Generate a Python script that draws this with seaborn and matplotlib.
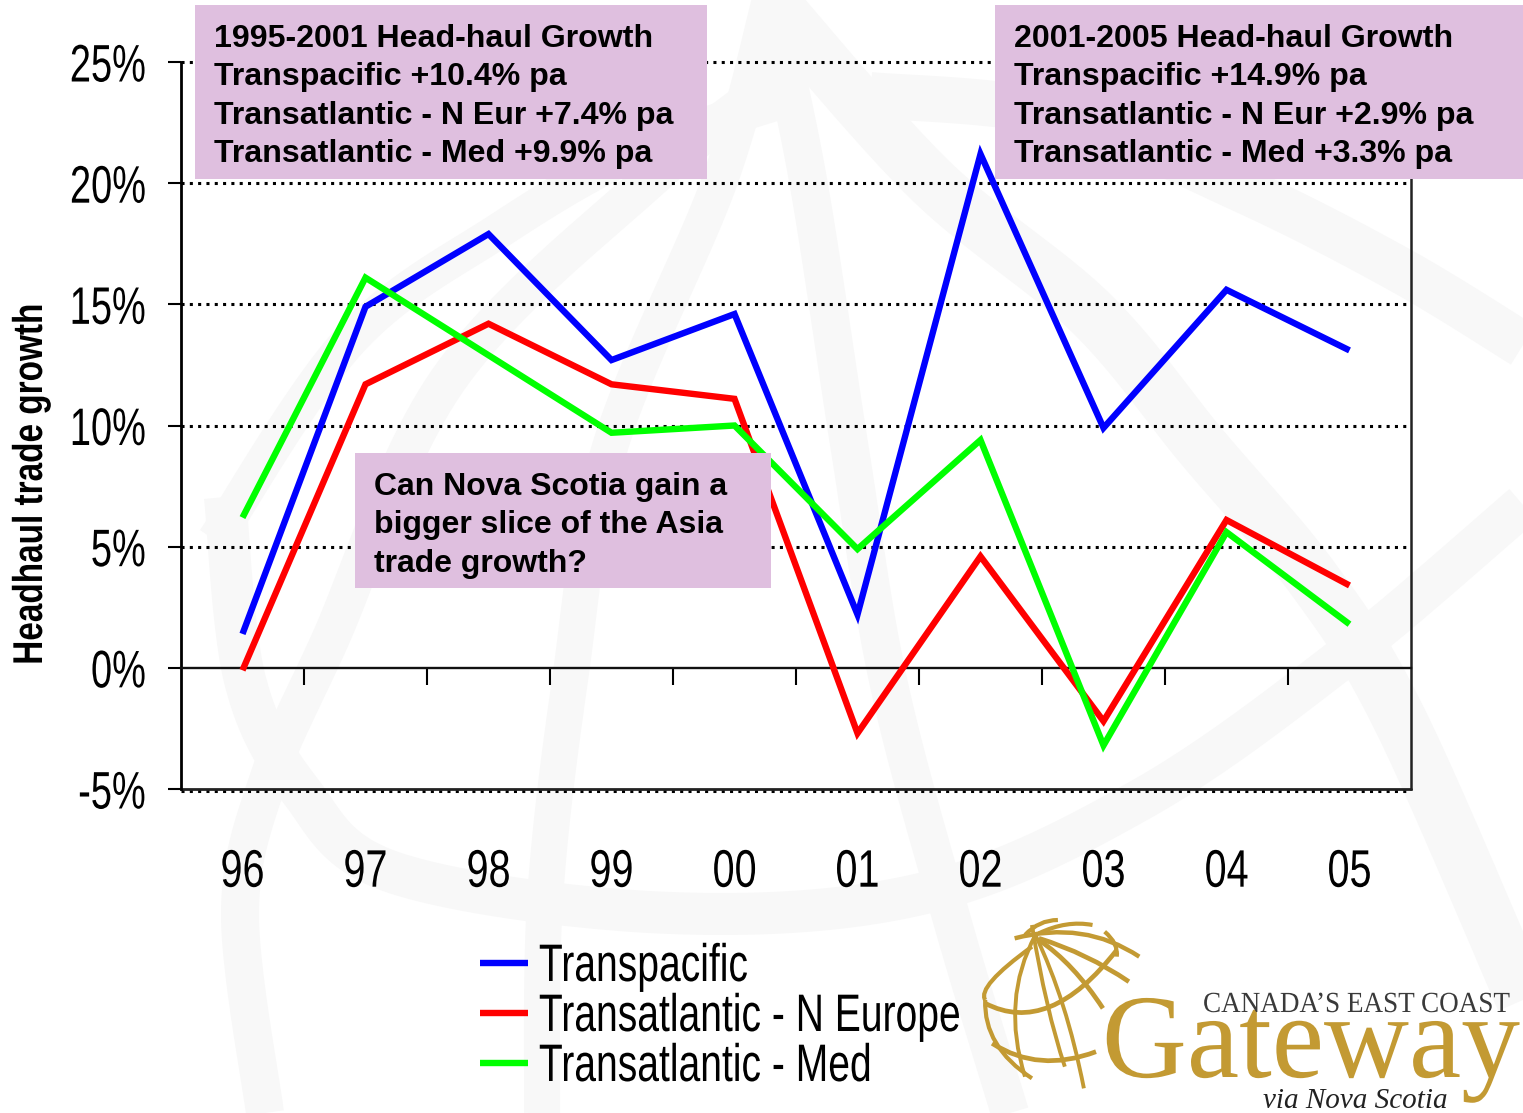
import numpy as np
import pandas as pd
import matplotlib
matplotlib.use("Agg")
import matplotlib.pyplot as plt
from matplotlib.path import Path
from matplotlib.patches import PathPatch, Rectangle
from matplotlib.patheffects import AbstractPathEffect
from matplotlib.transforms import Affine2D
import seaborn as sns

years = ["96", "97", "98", "99", "00", "01", "02", "03", "04", "05"]
transpacific = [1.4, 14.9, 17.9, 12.7, 14.6, 2.2, 21.2, 9.9, 15.6, 13.1]
n_europe = [-0.1, 11.7, 14.2, 11.7, 11.1, -2.7, 4.6, -2.2, 6.1, 3.4]
med = [6.2, 16.1, 12.9, 9.7, 10.0, 4.9, 9.4, -3.2, 5.6, 1.8]
series_names = ["Transpacific", "Transatlantic - N Europe", "Transatlantic - Med"]
series_colors = ["#0000FF", "#FF0000", "#00FF00"]
y_ticks = [-5, 0, 5, 10, 15, 20, 25]
box_left = ["1995-2001 Head-haul Growth", "Transpacific +10.4% pa", "Transatlantic - N Eur +7.4% pa", "Transatlantic - Med +9.9% pa"]
box_right = ["2001-2005 Head-haul Growth", "Transpacific +14.9% pa", "Transatlantic - N Eur +2.9% pa", "Transatlantic - Med +3.3% pa"]
box_mid = ["Can Nova Scotia gain a", "bigger slice of the Asia", "trade growth?"]

W, H = 1523, 1113
SANS = "Liberation Sans"
sns.set_theme(style="white")
fig = plt.figure(figsize=(W/100, H/100), dpi=100, facecolor="white")


class Squeeze(AbstractPathEffect):
    """Condense real text along its reading direction, about one end or its middle."""
    def __init__(self, s, anchor="center", vertical=False):
        super().__init__()
        self.s, self.anchor, self.vertical = s, anchor, vertical

    def draw_path(self, renderer, gc, tpath, affine, rgbFace=None):
        e = tpath.get_extents(affine)
        if self.vertical:
            c = (e.y0 + e.y1) / 2
            t = Affine2D().translate(0, -c).scale(1, self.s).translate(0, c)
        else:
            c = {"left": e.x0, "right": e.x1, "center": (e.x0 + e.x1) / 2}[self.anchor]
            t = Affine2D().translate(-c, 0).scale(self.s, 1).translate(c, 0)
        renderer.draw_path(gc, tpath, affine + t, rgbFace)


def pixel_axes(z):
    a = fig.add_axes([0, 0, 1, 1], zorder=z)
    a.set_xlim(0, W); a.set_ylim(H, 0); a.axis("off"); a.patch.set_alpha(0)
    return a


def curve(a, pts, color, lw, cap="butt"):
    verts = [pts[0]]; codes = [Path.MOVETO]
    for i in range(1, len(pts) - 1, 2):
        verts += [pts[i], pts[i+1]]; codes += [Path.CURVE3, Path.CURVE3]
    a.add_patch(PathPatch(Path(verts, codes), fc="none", ec=color, lw=lw, capstyle=cap))


def smooth(a, pts, color, width_px):
    p = np.array([pts[0]] + list(pts) + [pts[-1]], float)
    out = []
    for i in range(1, len(p) - 2):
        for t in np.linspace(0, 1, 24):
            out.append(0.5 * (2*p[i] + (p[i+1]-p[i-1])*t
                              + (2*p[i-1]-5*p[i]+4*p[i+1]-p[i+2])*t*t
                              + (3*p[i]-p[i-1]-3*p[i+1]+p[i+2])*t*t*t))
    out = np.array(out)
    a.plot(out[:, 0], out[:, 1], color=color, lw=width_px*0.72, solid_capstyle="butt", solid_joinstyle="round")


bg = pixel_axes(0)
wm = "#F8F8F8"
for pts, w in [
    ([(225, 497), (245, 680), (300, 790), (395, 873), (670, 913), (925, 893), (1140, 800), (1340, 660), (1523, 505)], 42),
    ([(265, 1113), (240, 913), (268, 780), (330, 640), (448, 380), (650, 180), (790, 70)], 38),
    ([(215, 540), (350, 340), (500, 230), (640, 150), (800, 95)], 36),
    ([(770, 0), (720, 180), (610, 447), (570, 680), (545, 900), (542, 1113)], 36),
    ([(770, 0), (808, 180), (850, 450), (888, 680), (950, 913), (1010, 1113)], 38),
    ([(770, 0), (930, 180), (1091, 313), (1202, 447), (1314, 580), (1400, 720), (1523, 1000)], 54),
    ([(870, 95), (1060, 115), (1243, 190), (1400, 270), (1523, 345)], 46),
]:
    smooth(bg, pts, wm, w)

ax = fig.add_axes([181/W, 1 - 789/H, (1411-181)/W, (789-62)/H], zorder=1)
ax.patch.set_alpha(0)

df = pd.DataFrame({
    "year": list(range(len(years))) * 3,
    "growth": transpacific + n_europe + med,
    "series": sum([[n] * len(years) for n in series_names], []),
})
sns.lineplot(data=df, x="year", y="growth", hue="series", hue_order=series_names,
             palette=series_colors, linewidth=4.6, ax=ax, errorbar=None, sort=False,
             solid_capstyle="butt", solid_joinstyle="miter", zorder=3)

ax.set_xlim(-0.5, 9.5)
ax.set_ylim(-5, 25)
for y in y_ticks:
    if y != 0:
        off = 0.09 if y == -5 else 0
        ax.plot([-0.5, 9.5], [y - off, y - off], color="black", lw=2.2, ls=(0, (1, 1.72)), zorder=1,
                clip_on=False, dash_capstyle="butt")
ax.axhline(-5, color="#222222", lw=2.0, zorder=2, clip_on=False)

ax.spines["top"].set_visible(False)
ax.spines["left"].set_linewidth(2.0)
ax.spines["left"].set_color("black")
ax.spines["right"].set_linewidth(1.8)
ax.spines["right"].set_color("#222222")
ax.spines["bottom"].set_position(("data", 0))
ax.spines["bottom"].set_linewidth(1.7)
ax.spines["bottom"].set_color("#111111")

ax.set_yticks(y_ticks)
ax.set_yticklabels([f"{v}%" for v in y_ticks], fontfamily=SANS, fontsize=38, color="black")
ax.tick_params(axis="y", length=9.5, width=1.5, color="black", pad=15.5, left=True)
for t in ax.get_yticklabels():
    t.set_path_effects([Squeeze(0.72, "right")])
ax.set_xticks(range(len(years)))
ax.set_xticklabels(years, fontfamily=SANS, fontsize=38, color="black")
ax.tick_params(axis="x", which="major", length=0, pad=129.5)
for t in ax.get_xticklabels():
    t.set_path_effects([Squeeze(0.75, "center")])
ax.set_xticks(np.arange(0.5, 9.5, 1), minor=True)
ax.tick_params(axis="x", which="minor", bottom=True, length=12, width=1.5, color="black")
ax.set_xlabel(""); ax.set_ylabel("")
fig.text(31/W, 1 - 484/H, "Headhaul trade growth", rotation=90, ha="center", va="center",
         fontfamily=SANS, fontweight="bold", fontsize=30, color="black",
         path_effects=[Squeeze(0.80, vertical=True)])

handles, labels = ax.get_legend_handles_labels()
leg = ax.legend(handles, labels, loc="upper left", bbox_to_anchor=(480/W, 1 - 942/H),
                bbox_transform=fig.transFigure, frameon=False,
                prop={"family": SANS, "size": 38}, labelcolor="black", handlelength=0.91,
                handletextpad=0.2, labelspacing=0.0, borderpad=0, borderaxespad=0)
for h in leg.get_lines():
    h.set_linewidth(4.6)
for t in leg.get_texts():
    t.set_path_effects([Squeeze(0.74, "left")])

fg = pixel_axes(5)
pink = "#DFBFDF"


def box(x0, y0, x1, y1, lines, tx, ty0, size=23.1):
    fg.add_patch(Rectangle((x0, y0), x1-x0, y1-y0, fc=pink, ec="none"))
    for i, t in enumerate(lines):
        fg.text(tx, ty0 + i*38.4, t, fontfamily=SANS, fontweight="bold",
                fontsize=size, color="black", ha="left", va="center")


box(195, 5, 707, 179, box_left, 214, 39)
box(995, 5, 1523, 179, box_right, 1014, 39)
box(355, 453, 771, 588, box_mid, 374, 487, size=23.0)

# logo
gold = "#C39A33"


def z(p):
    return (980 + p[0]/2.888, 900 + p[1]/3)


for pts, lw in [
    ([(160, 105), (250, 300), (300, 565)], 2.8),
    ([(160, 105), (60, 300), (130, 530)], 2.8),
    ([(150, 75), (190, 330), (245, 500)], 2.8),
    ([(170, 120), (270, 190), (355, 325)], 3.4),
    ([(170, 115), (310, 160), (430, 245)], 3.4),
    ([(100, 115), (300, 60), (460, 170)], 3.2),
    ([(170, 100), (250, 60), (325, 75)], 3),
    ([(15, 310), (200, 410), (395, 150)], 3.4),
    ([(360, 95), (400, 130), (395, 170)], 3),
    ([(35, 430), (170, 520), (335, 455)], 3.4),
    ([(150, 140), (-10, 260), (15, 300)], 3),
    ([(15, 300), (10, 440), (150, 535)], 3),
    ([(130, 105), (170, 60), (225, 60)], 3),
]:
    curve(fg, [z(p) for p in pts], gold, lw)
fg.text(1311, 1077, "Gateway", fontfamily="Liberation Serif", fontsize=86, color=gold,
        ha="center", va="baseline", path_effects=[Squeeze(0.985)])
fg.text(1356, 1005, "CANADA\u2019S EAST COAST", fontfamily="Liberation Serif", fontsize=21,
        color="#3A3A3A", ha="center", va="center", path_effects=[Squeeze(0.93)])
fg.text(1355, 1101, "via Nova Scotia", fontfamily="Liberation Serif", style="italic", fontsize=21,
        color="#222222", ha="center", va="center")

fig.savefig("out.png", dpi=100, facecolor="white")
